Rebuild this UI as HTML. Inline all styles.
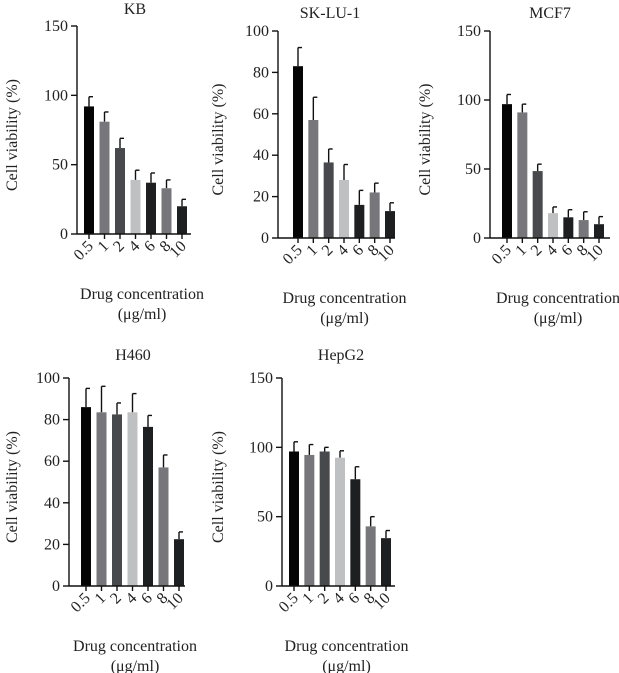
<!DOCTYPE html>
<html><head><meta charset="utf-8"><style>
body{margin:0;background:#fff;}
svg{display:block;}
text{font-family:"Liberation Serif",serif;fill:#222;}
</style></head><body>
<svg id="fig" width="619" height="673" viewBox="0 0 619 673" xmlns="http://www.w3.org/2000/svg"></svg>
<script>
const categories = ["0.5","1","2","4","6","8","10"];
const kbValues = [92,81,62,39,37,33,20];
const kbErr = [7,7,7,7,7,6,5];
const skluValues = [83,57,36.5,28,16,22,13];
const skluErr = [9,11,6.5,7.5,7,4.5,4];
const mcf7Values = [97,91,48.5,18,15,13,10];
const mcf7Err = [7,6,5,4.5,5.5,6,5.5];
const h460Values = [86,83.5,82.5,83.5,76.5,57,22.5];
const h460Err = [9,12.5,5.5,9,5.5,6,3.5];
const hepg2Values = [97,94.5,97,92.5,77,43,34.5];
const hepg2Err = [7,7.5,3,5,9,7,5.5];
const kbTicks = [0,50,100,150];
const skluTicks = [0,20,40,60,80,100];
const h460Ticks = [0,20,40,60,80,100];
const colors = ["#050505","#77777b","#48494c","#bfc0c2","#1e1f21","#77777b","#1e1f21"];

const NS="http://www.w3.org/2000/svg";
const svg=document.getElementById('fig');
function mk(tag,attrs,parent){const e=document.createElementNS(NS,tag);for(const k in attrs)e.setAttribute(k,attrs[k]);(parent||svg).appendChild(e);return e;}

const panels=[
 {id:"kb",title:"KB",vals:kbValues,err:kbErr,ticks:kbTicks,ax:77,y0:234,yTop:26,c0:89,c1:182,xEnd:191,tx:135,ty:14,lx:12},
 {id:"sk-lu-1",title:"SK-LU-1",vals:skluValues,err:skluErr,ticks:skluTicks,ax:278,y0:238,yTop:31,c0:298,c1:390,xEnd:395,tx:330,ty:18,lx:218},
 {id:"mcf7",title:"MCF7",vals:mcf7Values,err:mcf7Err,ticks:kbTicks,ax:490,y0:238,yTop:31,c0:507,c1:599,xEnd:610,tx:550,ty:18,lx:425},
 {id:"h460",title:"H460",vals:h460Values,err:h460Err,ticks:h460Ticks,ax:69,y0:586,yTop:378,c0:86,c1:179,xEnd:185,tx:133,ty:360,lx:12},
 {id:"hepg2",title:"HepG2",vals:hepg2Values,err:hepg2Err,ticks:kbTicks,ax:282,y0:586,yTop:378,c0:294,c1:386,xEnd:395,tx:341,ty:360,lx:218}
];

panels.forEach(p=>{
  const g=mk('g',{});
  
  
  const maxT=p.ticks[p.ticks.length-1];
  const y=v=>p.y0-(v/maxT)*(p.y0-p.yTop);
  const step=(p.c1-p.c0)/(categories.length-1);
  const x=i=>p.c0+i*step;
  const bw=10;
  const t=mk('text',{x:p.tx,y:p.ty,'text-anchor':'middle','font-size':16},g);
  t.textContent=p.title;
  
  
  p.vals.forEach((v,i)=>{
    const top=y(v+p.err[i]);
    const eb=mk('line',{x1:x(i),x2:x(i),y1:y(v),y2:top,stroke:'#111','stroke-width':1.4},g);
    
    
    const cap=mk('line',{x1:x(i),x2:x(i)+4,y1:top,y2:top,stroke:'#111','stroke-width':1.4},g);
    
    
    const r=mk('rect',{x:x(i)-bw/2,y:y(v),width:bw,height:p.y0-y(v),fill:colors[i]},g);
    
    
  });
  const ya=mk('line',{x1:p.ax,x2:p.ax,y1:p.yTop,y2:p.y0,stroke:'#111','stroke-width':1.4},g);
  
  
  const xa=mk('line',{x1:p.ax,x2:p.xEnd,y1:p.y0,y2:p.y0,stroke:'#111','stroke-width':1.4},g);
  
  
  p.ticks.forEach(tv=>{
    mk('line',{x1:p.ax-6,x2:p.ax,y1:y(tv),y2:y(tv),stroke:'#111','stroke-width':1.4},g);
    const tl=mk('text',{x:p.ax-9,y:y(tv)+5,'text-anchor':'end','font-size':16},g);
    tl.textContent=tv;
    
    
  });
  categories.forEach((c,i)=>{
    mk('line',{x1:x(i),x2:x(i),y1:p.y0,y2:p.y0+5,stroke:'#111','stroke-width':1.4},g);
    const tl=mk('text',{x:x(i)+5,y:p.y0+13,'text-anchor':'end','font-size':16,transform:`rotate(-45 ${x(i)+5} ${p.y0+13})`},g);
    tl.textContent=c;
    
    
  });
  const xl=mk('text',{x:(p.ax+p.xEnd)/2+8,y:p.y0+65,'text-anchor':'middle','font-size':16},g);
  xl.textContent="Drug concentration";
  
  
  const xl2=mk('text',{x:(p.ax+p.xEnd)/2+8,y:p.y0+85,'text-anchor':'middle','font-size':16},g);
  xl2.textContent="(μg/ml)";
  
  
  const cy=(p.yTop+p.y0)/2+5;
  const yl=mk('text',{x:p.lx+5,y:cy,'text-anchor':'middle','font-size':16,transform:`rotate(-90 ${p.lx+5} ${cy})`},g);
  yl.textContent="Cell viability (%)";
  
  
});
</script>
</body></html>
